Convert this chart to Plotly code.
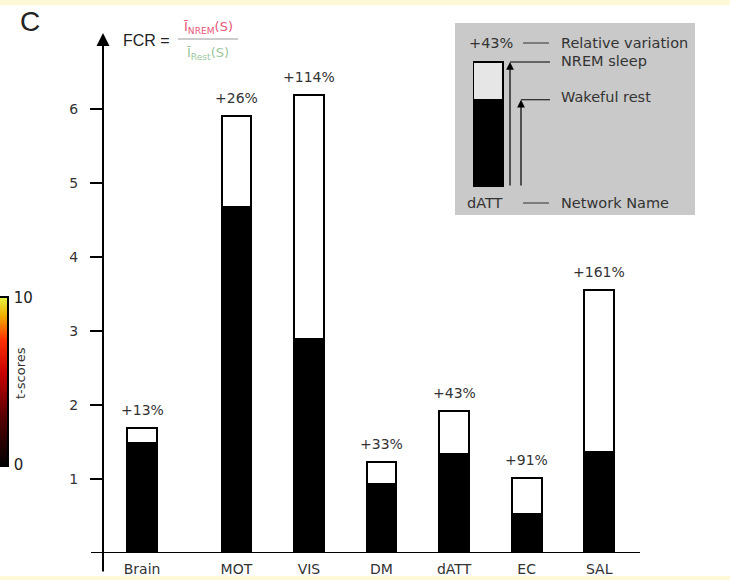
import plotly.graph_objects as go

# ---------------- data ----------------
networks = ["Brain", "MOT", "VIS", "DM", "dATT", "EC", "SAL"]
wake_rest = [1.49, 4.68, 2.89, 0.93, 1.34, 0.53, 1.37]
nrem_sleep = [1.69, 5.90, 6.19, 1.23, 1.92, 1.02, 3.56]
rel_variation = ["+13%", "+26%", "+114%", "+33%", "+43%", "+91%", "+161%"]
y_ticks = [1, 2, 3, 4, 5, 6]
tscore_range = [0, 10]
legend_example = "dATT"

# ---------------- geometry helpers (pixel -> paper, no margins) ----------------
W, H = 730, 580


def px(x):
    return x / W


def py(y):
    return 1 - y / H


# extra gap between whole-brain bar and network bars
xpos = [i + (0.3 if i > 0 else 0) for i in range(len(networks))]

TXT = "#333333"
FONT = "DejaVu Sans"

fig = go.Figure()

fig.add_trace(go.Bar(
    x=xpos, y=nrem_sleep, width=0.41,
    marker=dict(color="white", line=dict(color="black", width=2)),
    hoverinfo="skip", showlegend=False))
fig.add_trace(go.Bar(
    x=xpos, y=wake_rest, width=0.41,
    marker=dict(color="black", line=dict(color="black", width=2)),
    hoverinfo="skip", showlegend=False))

# t-score colour scale strip (gradient between the two ends of the scale)
fig.add_trace(go.Heatmap(
    x=[0], y=tscore_range, z=[[tscore_range[0]], [tscore_range[1]]],
    zmin=tscore_range[0], zmax=tscore_range[1], zsmooth="best",
    colorscale=[[0, "#000000"], [0.3, "#5a0000"], [0.55, "#c80000"],
                [0.75, "#ff3000"], [0.9, "#f0b000"], [1, "#e8f040"]],
    showscale=False, hoverinfo="skip", xaxis="x3", yaxis="y3"))

# inset legend bar (example network)
k = networks.index(legend_example)
fig.add_trace(go.Bar(
    x=[0], y=[nrem_sleep[k]], width=1, xaxis="x2", yaxis="y2",
    marker=dict(color="#e6e6e6", line=dict(color="black", width=2)),
    hoverinfo="skip", showlegend=False))
fig.add_trace(go.Bar(
    x=[0], y=[wake_rest[k]], width=1, xaxis="x2", yaxis="y2",
    marker=dict(color="black", line=dict(color="black", width=2)),
    hoverinfo="skip", showlegend=False))

shapes = []
annotations = []


def label(x, y, text, font, xanchor="center", yanchor="middle", **kw):
    annotations.append(dict(xref="paper", yref="paper", x=px(x), y=py(y), text=text,
                            showarrow=False, xanchor=xanchor, yanchor=yanchor,
                            font=font, **kw))


# pale yellow strips top & bottom
shapes.append(dict(type="rect", xref="paper", yref="paper", layer="below",
                   x0=0, x1=1, y0=py(0), y1=py(5),
                   fillcolor="#fdf9d6", line=dict(width=0)))
shapes.append(dict(type="rect", xref="paper", yref="paper", layer="below",
                   x0=0, x1=1, y0=py(576), y1=py(H),
                   fillcolor="#fdf9d6", line=dict(width=0)))

# x axis line
shapes.append(dict(type="line", xref="paper", yref="y", x0=px(91), x1=px(640),
                   y0=0, y1=0, line=dict(color="black", width=2)))

# y axis arrow
annotations.append(dict(xref="paper", yref="paper", x=px(103), y=py(33), ax=0, ay=540,
                        showarrow=True, arrowhead=2, arrowsize=1.3, arrowwidth=2,
                        arrowcolor="black", text=""))

# percentage labels
for xp, v, lab in zip(xpos, nrem_sleep, rel_variation):
    annotations.append(dict(x=xp, y=v, xref="x", yref="y", text=lab, showarrow=False,
                            xanchor="center", yanchor="bottom", yshift=8,
                            font=dict(family=FONT, size=14, color=TXT)))

# panel letter and formula
label(30, 22, "C", dict(family="Liberation Sans", size=28, color="#222222"))
label(121, 41, "FCR =", dict(family="Liberation Sans", size=16, color="#222222"), xanchor="left")
label(208, 27, "Ī<sub>NREM</sub>(S)", dict(family=FONT, size=13, color="#e8587a"))
label(208, 54, "Ī<sub>Rest</sub>(S)", dict(family=FONT, size=13, color="#9cc89c"))
shapes.append(dict(type="line", xref="paper", yref="paper", x0=px(178), x1=px(238),
                   y0=py(39), y1=py(39), line=dict(color="#9a9a9a", width=1.2)))

# t-scores label
label(20, 373, "t-scores", dict(family=FONT, size=13, color=TXT), textangle=-90)

# inset box
shapes.append(dict(type="rect", xref="paper", yref="paper", layer="below",
                   x0=px(455), x1=px(695), y0=py(215), y1=py(23),
                   fillcolor="#c9c9c9", line=dict(width=0)))

# inset texts
ifont = dict(family=FONT, size=14.5, color=TXT)
label(491, 43, rel_variation[k], ifont)
label(485, 203, legend_example, ifont)
for ty, t in [(43, "Relative variation"), (61, "NREM sleep"), (97, "Wakeful rest"), (203, "Network Name")]:
    label(559, ty, t, ifont, xanchor="left")
for ty in [43, 203]:
    shapes.append(dict(type="line", xref="paper", yref="paper", x0=px(523), x1=px(549),
                       y0=py(ty), y1=py(ty), line=dict(color=TXT, width=1)))

# inset arrows pointing at the two levels
INSET_X0, INSET_X1 = 473, 560          # pixel extent of inset x axis
BAR_PX = 30                             # one x2 unit in pixels
x2_px = lambda p: (p - INSET_X0) / BAR_PX - 0.5
for ax_px, val in [(510, nrem_sleep[k]), (521, wake_rest[k])]:
    annotations.append(dict(xref="x2", yref="y2", axref="x2", ayref="y2",
                            x=x2_px(ax_px), y=val, ax=x2_px(ax_px), ay=0,
                            showarrow=True, arrowhead=2, arrowsize=1.3, arrowwidth=1.2,
                            arrowcolor="black", text=""))
    shapes.append(dict(type="line", xref="x2", yref="y2", x0=x2_px(ax_px), x1=x2_px(550),
                       y0=val, y1=val, line=dict(color="black", width=1)))

# inset y scale: bar bottom at 187 px, top of sleep bar at 62 px
ppu = (187 - 62) / nrem_sleep[k]
inset_top_px = 50
y2_top = (187 - inset_top_px) / ppu

fig.update_layout(
    width=W, height=H, autosize=False,
    margin=dict(l=0, r=0, t=0, b=0, pad=0, autoexpand=False),
    paper_bgcolor="white", plot_bgcolor="rgba(0,0,0,0)",
    barmode="overlay", bargap=0,
    showlegend=False,
    shapes=shapes, annotations=annotations,
    xaxis=dict(domain=[px(103), px(650)], range=[-0.538, 7.0], automargin=False,
               showgrid=False, zeroline=False, showline=False,
               tickvals=xpos, ticktext=networks, ticks="", ticklabelstandoff=6,
               tickfont=dict(family=FONT, size=14, color=TXT), fixedrange=True),
    yaxis=dict(domain=[py(553), py(35)], range=[0, 7.0], automargin=False,
               showgrid=False, zeroline=False, showline=False,
               tickvals=y_ticks, ticks="outside", ticklen=12, tickwidth=2, tickcolor="black",
               ticklabelstandoff=9,
               tickfont=dict(family=FONT, size=14, color=TXT), fixedrange=True),
    xaxis2=dict(domain=[px(INSET_X0), px(INSET_X1)], automargin=False,
                range=[-0.5, -0.5 + (INSET_X1 - INSET_X0) / BAR_PX],
                anchor="y2", visible=False),
    yaxis2=dict(domain=[py(187), py(inset_top_px)], range=[0, y2_top], anchor="x2",
                visible=False, automargin=False),
    xaxis3=dict(domain=[0, px(7)], range=[-0.5, 0.5], anchor="y3", showgrid=False,
                zeroline=False, showticklabels=False, ticks="", automargin=False,
                showline=True, mirror=True, linecolor="black", linewidth=1.5),
    yaxis3=dict(domain=[py(465), py(298)], range=tscore_range, anchor="x3", side="right",
                showgrid=False, zeroline=False, tickvals=tscore_range, ticks="",
                ticklabelstandoff=2, automargin=False,
                showline=True, mirror=True, linecolor="black", linewidth=1.5,
                tickfont=dict(family=FONT, size=15, color="#222222")),
)

# remove the browser's default page margin so the figure fills the window exactly
fig.write_html("out.html", config={"displayModeBar": False},
               post_script="document.body.style.margin='0';")
